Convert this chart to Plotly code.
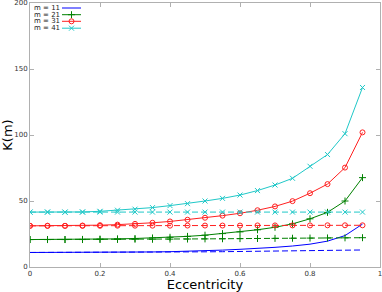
import plotly.graph_objects as go

ecc = [0.0, 0.05, 0.1, 0.15, 0.2, 0.25, 0.3, 0.35, 0.4, 0.45,
       0.5, 0.55, 0.6, 0.65, 0.7, 0.75, 0.8, 0.85, 0.9, 0.95]

m_labels = ["m = 11", "m = 21", "m = 31", "m = 41"]
colors = ["#0000ff", "#008000", "#ff2020", "#20c8c8"]
symbols = [None, "cross-thin-open", "circle-open", "x-thin-open"]

x_ticks = [0, 0.2, 0.4, 0.6, 0.8, 1.0]
x_tick_labels = ["0", "0.2", "0.4", "0.6", "0.8", "1"]
y_ticks = [0, 50, 100, 150, 200]
y_tick_labels = ["0", "50", "100", "150", "200"]

k11 = [11.0, 11.0, 11.0, 11.0, 11.1, 11.2, 11.3, 11.4, 11.6, 11.9,
       12.3, 12.8, 13.4, 14.0, 14.9, 15.9, 17.3, 19.6, 23.8, 32.5]
k11_ref = [11.0, 11.0, 11.0, 11.0, 11.1, 11.1, 11.2, 11.3, 11.3, 11.4,
           11.5, 11.6, 11.8, 11.9, 12.1, 12.2, 12.4, 12.6, 12.8, 12.9]
k21 = [20.8, 20.8, 20.8, 20.9, 21.1, 21.3, 21.6, 22.0, 22.5, 23.2,
       24.1, 25.3, 26.6, 28.2, 30.1, 32.7, 36.5, 41.4, 50.0, 67.7]
k21_ref = [20.8, 20.8, 20.8, 20.8, 20.9, 20.9, 21.0, 21.0, 21.1, 21.2,
           21.3, 21.4, 21.5, 21.6, 21.7, 21.8, 21.9, 22.0, 22.1, 22.2]
k31 = [31.2, 31.2, 31.2, 31.4, 31.7, 32.1, 32.7, 33.5, 34.5, 35.8,
       37.3, 38.9, 40.7, 43.0, 45.9, 49.9, 55.9, 62.8, 75.3, 102.0]
k31_ref = [31.2, 31.2, 31.2, 31.2, 31.2, 31.3, 31.3, 31.3, 31.3, 31.4,
           31.4, 31.4, 31.4, 31.5, 31.5, 31.5, 31.5, 31.6, 31.6, 31.6]
k41 = [41.6, 41.6, 41.5, 41.7, 42.2, 43.0, 43.8, 45.0, 46.5, 48.0,
       50.0, 52.0, 54.5, 57.9, 62.1, 67.2, 76.3, 85.2, 101.0, 136.0]
k41_ref = [41.6, 41.6, 41.6, 41.6, 41.6, 41.6, 41.6, 41.6, 41.6, 41.6,
           41.6, 41.6, 41.6, 41.6, 41.6, 41.6, 41.6, 41.6, 41.6, 41.6]

solid = [k11, k21, k31, k41]
dashed = [k11_ref, k21_ref, k31_ref, k41_ref]

fig = go.Figure()

for i in range(4):
    mode = "lines" if symbols[i] is None else "lines+markers"
    mk = dict(symbol=symbols[i] or "circle", size=5, color=colors[i],
              line=dict(width=1, color=colors[i]))
    fig.add_trace(go.Scatter(x=ecc, y=dashed[i], mode=mode, marker=mk,
                             line=dict(color=colors[i], width=1, dash="6px,3px"),
                             showlegend=False, hoverinfo="skip"))
    fig.add_trace(go.Scatter(x=ecc, y=solid[i], mode=mode, marker=mk,
                             line=dict(color=colors[i], width=1),
                             showlegend=False, hoverinfo="skip"))

# manual legend (text left, sample right) on an overlay axis in 0..1 units
L, R, T, B, W, H = 30, 2, 3, 25, 382, 292
pw, ph = W - L - R, H - T - B
def px2x(px):
    return (px - L) / pw
def py2y(py):
    return (H - B - py) / ph

leg_rows = [8, 14.7, 21.3, 28.2]
annotations = []
for i in range(4):
    yy = py2y(leg_rows[i])
    annotations.append(dict(x=px2x(33), y=yy, xref="paper", yref="paper",
                            text=m_labels[i], showarrow=False, xanchor="left",
                            yanchor="middle", borderpad=0,
                            font=dict(family="DejaVu Sans", size=7, color="#222")))
    fig.add_trace(go.Scatter(x=[px2x(62), px2x(81)], y=[yy, yy], mode="lines",
                             line=dict(color=colors[i], width=1),
                             xaxis="x2", yaxis="y2", showlegend=False,
                             hoverinfo="skip"))
    if symbols[i] is not None:
        fig.add_trace(go.Scatter(x=[px2x(71.5)], y=[yy], mode="markers",
                                 marker=dict(symbol=symbols[i], size=5,
                                             color=colors[i],
                                             line=dict(width=1, color=colors[i])),
                                 xaxis="x2", yaxis="y2", showlegend=False,
                                 hoverinfo="skip"))

axis_common = dict(showgrid=False, zeroline=False, showline=True,
                   linecolor="#b0b0b0", linewidth=1, mirror="ticks",
                   ticks="inside", ticklen=4, tickcolor="#b0b0b0",
                   automargin=False, ticklabeloverflow="allow",
                   tickfont=dict(family="DejaVu Sans", size=7, color="#333"))

fig.update_layout(
    width=W, height=H,
    margin=dict(l=L, r=R, t=T, b=B, autoexpand=False),
    paper_bgcolor="white", plot_bgcolor="white",
    showlegend=False,
    xaxis=dict(range=[0, 1], tickmode="array", tickvals=x_ticks,
               ticktext=x_tick_labels,
               title=dict(text="Eccentricity", standoff=0,
                          font=dict(family="DejaVu Sans", size=13, color="black")),
               **axis_common),
    yaxis=dict(range=[0, 200], tickmode="array", tickvals=y_ticks,
               ticktext=y_tick_labels,
               title=dict(text="K(m)", standoff=4,
                          font=dict(family="DejaVu Sans", size=13, color="black")),
               **axis_common),
    xaxis2=dict(overlaying="x", range=[0, 1], visible=False),
    yaxis2=dict(overlaying="y", range=[0, 1], visible=False),
    annotations=annotations,
)

fig.write_html("out.html",
               config={"displayModeBar": False},
               post_script="document.body.style.margin='0';"
                           "document.body.style.overflow='hidden';")
